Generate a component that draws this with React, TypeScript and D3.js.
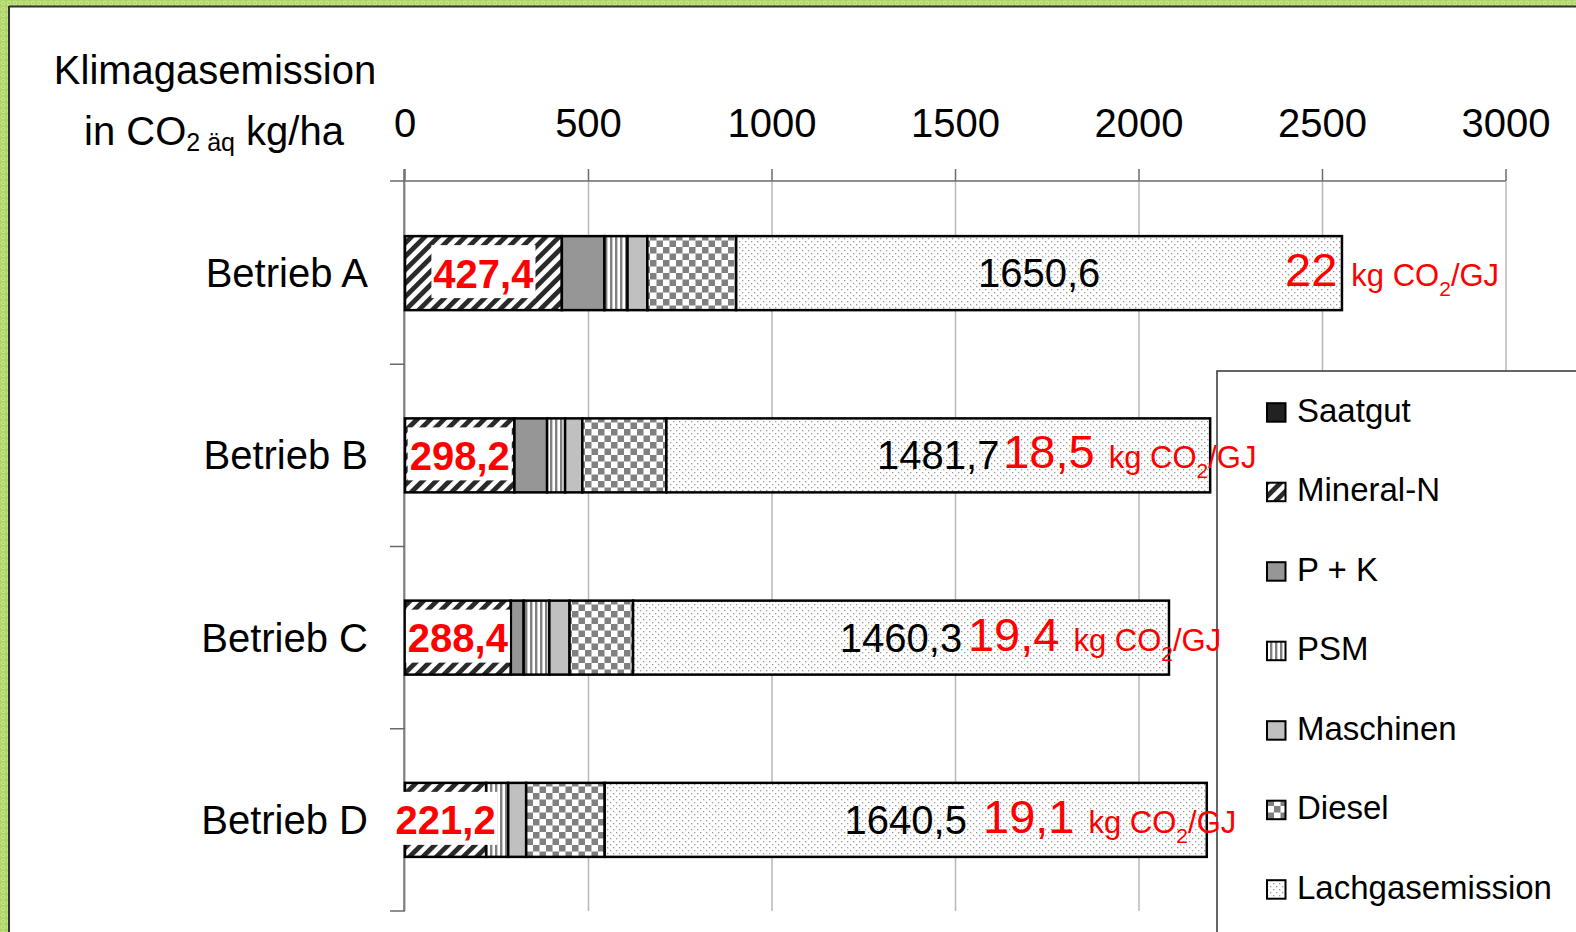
import React, { useEffect } from "react";
import * as d3 from "d3";

const categories = ["Betrieb A", "Betrieb B", "Betrieb C", "Betrieb D"];
const seriesNames = ["Saatgut", "Mineral-N", "P + K", "PSM", "Maschinen", "Diesel", "Lachgasemission"];
const saatgut = [0, 0, 0, 0];
const mineralN = [427.4, 298.2, 288.4, 221.2];
const pk = [116, 89, 35, 0];
const psm = [63, 49, 70, 60];
const maschinen = [54, 47, 55, 49];
const diesel = [242, 229, 173, 214];
const lachgas = [1650.6, 1481.7, 1460.3, 1640.5];
const mineralLabels = ["427,4", "298,2", "288,4", "221,2"];
const lachgasLabels = ["1650,6", "1481,7", "1460,3", "1640,5"];
const intensity = ["22", "18,5", "19,4", "19,1"];
const intensityAt = [2398, 1630, 1534, 1575];
const xTicks = [0, 500, 1000, 1500, 2000, 2500, 3000];

const FONT = "'Liberation Sans', Arial, Helvetica, sans-serif";

const fills = ["#222222", "url(#pMin)", "#969696", "url(#pPsm)", "#c0c0c0", "url(#pDiesel)", "url(#pLach)"];

let ctx: CanvasRenderingContext2D | null = null;
function measure(t: string, font: string) {
  if (!ctx) ctx = document.createElement("canvas").getContext("2d");
  if (!ctx) return t.length * 22;
  ctx.font = font;
  return ctx.measureText(t).width;
}

export default function App() {
  useEffect(() => {
    document.body.style.margin = "0";
    document.body.style.overflow = "hidden";
  }, []);

  const W = 1576, H = 932;
  const x = d3.scaleLinear().domain([0, 3000]).range([405, 1506]);
  const y = d3.scaleBand<string>().domain(categories).range([182, 911]);
  const barH = 74;

  const rows = categories.map((c, i) => ({
    cat: c,
    "Saatgut": saatgut[i],
    "Mineral-N": mineralN[i],
    "P + K": pk[i],
    "PSM": psm[i],
    "Maschinen": maschinen[i],
    "Diesel": diesel[i],
    "Lachgasemission": lachgas[i],
  }));
  const stacked = d3.stack<any>().keys(seriesNames)(rows);

  const cy = (c: string) => (y(c) as number) + y.bandwidth() / 2;
  const axisColor = "#6a6a6a";
  const gridColor = "#b8b8b8";

  const legendX = 1217, legendY = 371;
  const legendStep = 79.5;
  const legendBase0 = 421.7;

  return (
    <svg width={W} height={H} style={{ position: "absolute", left: 0, top: 0, display: "block" }} fontFamily={FONT}>
      <defs>
        <pattern id="pGreen" patternUnits="userSpaceOnUse" width="6" height="6">
          <rect width="6" height="6" fill="#aed567" />
          <circle cx="3" cy="3" r="1.8" fill="none" stroke="#cde99a" strokeWidth="0.9" />
        </pattern>
        <pattern id="pMin" patternUnits="userSpaceOnUse" width="9.5" height="9.5" patternTransform="rotate(45)">
          <rect width="9.5" height="9.5" fill="#ffffff" />
          <rect width="4.8" height="9.5" fill="#2a2a2a" />
        </pattern>
        <pattern id="pPsm" patternUnits="userSpaceOnUse" width="5" height="5">
          <rect width="5" height="5" fill="#ffffff" />
          <rect x="0" width="2.4" height="5" fill="#808080" />
        </pattern>
        <pattern id="pDiesel" patternUnits="userSpaceOnUse" width="13" height="13">
          <rect width="13" height="13" fill="#ffffff" />
          <rect width="6.5" height="6.5" fill="#808080" />
          <rect x="6.5" y="6.5" width="6.5" height="6.5" fill="#808080" />
        </pattern>
        <pattern id="pLach" patternUnits="userSpaceOnUse" width="6" height="6">
          <rect width="6" height="6" fill="#ffffff" />
          <rect x="1" y="1" width="1.3" height="1.3" fill="#9a9a9a" />
          <rect x="4" y="4" width="1.3" height="1.3" fill="#9a9a9a" />
        </pattern>
      </defs>

      <rect width={W} height={H} fill="#ffffff" />
      {/* frame */}
      <rect x={0} y={0} width={W} height={6} fill="url(#pGreen)" />
      <rect x={0} y={0} width={8} height={H} fill="url(#pGreen)" />
      <line x1={9} x2={W} y1={6.5} y2={6.5} stroke="#333" strokeWidth={2} />
      <line x1={9} x2={9} y1={6} y2={H} stroke="#333" strokeWidth={2} />

      {/* title */}
      <text x={215} y={84} fontSize={40} textAnchor="middle" fill="#000">Klimagasemission</text>
      <text x={214} y={145} fontSize={40} textAnchor="middle" fill="#000">
        <tspan>in CO</tspan>
        <tspan fontSize={25} dy={6}>2 äq</tspan>
        <tspan dy={-6}> kg/ha</tspan>
      </text>

      {/* gridlines */}
      {xTicks.map((t) => (
        <line key={"g" + t} x1={x(t)} x2={x(t)} y1={182} y2={911} stroke={gridColor} strokeWidth={1.5} />
      ))}
      {/* x axis */}
      <line x1={390} x2={x(3000)} y1={181} y2={181} stroke={axisColor} strokeWidth={1.5} />
      {xTicks.map((t) => (
        <line key={"t" + t} x1={x(t)} x2={x(t)} y1={169} y2={181} stroke={axisColor} strokeWidth={1.5} />
      ))}
      {xTicks.map((t) => (
        <text key={"l" + t} x={x(t)} y={137} fontSize={40} textAnchor="middle" fill="#000">{t}</text>
      ))}
      {/* y axis */}
      <line x1={x(0) - 1} x2={x(0) - 1} y1={169} y2={911} stroke={axisColor} strokeWidth={1.5} />
      {categories.map((c) => (
        <line key={"yt" + c} x1={390} x2={x(0)} y1={(y(c) as number) + y.bandwidth()} y2={(y(c) as number) + y.bandwidth()} stroke={axisColor} strokeWidth={1.5} />
      ))}
      {categories.map((c) => (
        <text key={"yl" + c} x={368} y={cy(c) + 14} fontSize={40} textAnchor="end" fill="#000">{c}</text>
      ))}

      {/* bars */}
      {stacked.map((s, si) => (
        <g key={"s" + si}>
          {s.map((d, i) => {
            const w = x(d[1]) - x(d[0]);
            if (w <= 0) return null;
            return (
              <rect key={i} x={x(d[0])} y={cy(categories[i]) - barH / 2} width={w} height={barH}
                fill={fills[si]} stroke="#000" strokeWidth={2.5} />
            );
          })}
        </g>
      ))}

      {/* mineral-N labels */}
      {categories.map((c, i) => {
        const s = stacked[1][i];
        const mx = (x(s[0]) + x(s[1])) / 2;
        const tw = measure(mineralLabels[i], `bold 40px ${FONT}`);
        const yc = cy(c);
        return (
          <g key={"ml" + i}>
            <rect x={mx - tw / 2 - 2} y={yc - 28} width={tw + 4} height={53} fill="#ffffff" />
            <text x={mx} y={yc + 14.5} fontSize={40} fontWeight="bold" textAnchor="middle" fill="#ff0000">{mineralLabels[i]}</text>
          </g>
        );
      })}

      {/* lachgas labels */}
      {categories.map((c, i) => {
        const s = stacked[6][i];
        const mx = (x(s[0]) + x(s[1])) / 2;
        return (
          <text key={"ll" + i} x={mx} y={cy(c) + 14} fontSize={40} textAnchor="middle" fill="#000">{lachgasLabels[i]}</text>
        );
      })}

      {/* legend */}
      <rect x={legendX} y={legendY} width={W - legendX + 10} height={H - legendY + 10} fill="#ffffff" stroke="#333" strokeWidth={1.5} />
      {seriesNames.map((n, i) => {
        const base = legendBase0 + i * legendStep;
        return (
          <g key={"lg" + i}>
            <rect x={1267} y={base - 18.5} width={18.5} height={18.5} fill={fills[i]} stroke="#000" strokeWidth={2} />
            <text x={1297} y={base} fontSize={33} fill="#000">{n}</text>
          </g>
        );
      })}

      {/* intensity annotations */}
      {categories.map((c, i) => (
        <text key={"ia" + i} x={x(intensityAt[i])} y={cy(c) + 13} fill="#ff0000" fontSize={47}>
          <tspan>{intensity[i]}</tspan>
          <tspan fontSize={31} dx={14}>kg CO</tspan>
          <tspan fontSize={21} dy={10}>2</tspan>
          <tspan fontSize={31} dy={-10}>/GJ</tspan>
        </text>
      ))}
    </svg>
  );
}
